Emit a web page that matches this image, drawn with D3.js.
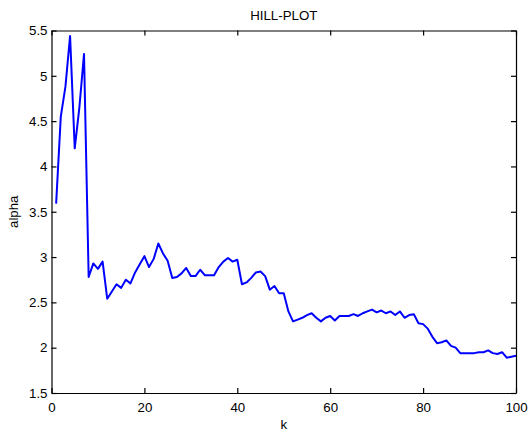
<!DOCTYPE html>
<html>
<head>
<meta charset="utf-8">
<script src="https://d3js.org/d3.v7.min.js"></script>
<style>
  body { margin: 0; background: #fff; }
  svg { display: block; background: #fff; }
  text { font-family: "Liberation Sans", Arial, Helvetica, sans-serif; font-size: 13.3px; fill: #000; }
  .axis path, .axis line { stroke: #000; stroke-width: 1.2; }
  .hill { fill: none; stroke: #0000ff; stroke-width: 2; stroke-linejoin: round; }
</style>
</head>
<body>
<svg id="canvas" width="528" height="431"></svg>
<script>
  // hill estimate of alpha for k = 1..100
  const alphaValues = [
    3.59, 4.55, 4.88, 5.44, 4.20, 4.65, 5.24, 2.78, 2.93, 2.87,
    2.95, 2.54, 2.62, 2.70, 2.66, 2.75, 2.71, 2.83, 2.92, 3.01,
    2.89, 2.98, 3.15, 3.04, 2.96, 2.77, 2.78, 2.82, 2.88, 2.79,
    2.79, 2.86, 2.80, 2.80, 2.80, 2.89, 2.95, 2.99, 2.95, 2.97,
    2.70, 2.72, 2.77, 2.83, 2.84, 2.79, 2.64, 2.68, 2.60, 2.60,
    2.40, 2.29, 2.31, 2.33, 2.36, 2.38, 2.33, 2.29, 2.33, 2.35,
    2.30, 2.35, 2.35, 2.35, 2.37, 2.35, 2.38, 2.40, 2.42, 2.39,
    2.41, 2.38, 2.40, 2.36, 2.40, 2.33, 2.36, 2.37, 2.27, 2.26,
    2.21, 2.12, 2.05, 2.06, 2.08, 2.02, 2.00, 1.94, 1.94, 1.94,
    1.94, 1.95, 1.95, 1.97, 1.94, 1.93, 1.95, 1.89, 1.90, 1.91
  ];
  const xTicks = [0, 20, 40, 60, 80, 100];
  const yTicks = [1.5, 2, 2.5, 3, 3.5, 4, 4.5, 5, 5.5];
  const titleText = "HILL-PLOT";
  const xLabelText = "k";
  const yLabelText = "alpha";

  const width = 528, height = 431;
  const margin = { left: 51.5, right: 12, top: 30.5, bottom: 38 };
  const innerW = width - margin.left - margin.right;
  const innerH = height - margin.top - margin.bottom;

  let svg = d3.select("svg");
  let g = svg.append("g").attr("transform", `translate(${margin.left},${margin.top})`);

  let x = d3.scaleLinear().domain([0, 100]).range([0, innerW]);
  let y = d3.scaleLinear().domain([1.5, 5.5]).range([innerH, 0]);

  let points = alphaValues.map((v, i) => ({ k: i + 1, v: v }));

  g.append("path")
    .datum(points)
    .attr("class", "hill")
    .attr("d", d3.line().x(d => x(d.k)).y(d => y(d.v)));

  // bottom and left axes with labels, ticks pointing inward
  g.append("g")
    .attr("class", "axis")
    .attr("transform", `translate(0,${innerH})`)
    .call(d3.axisBottom(x).tickValues(xTicks).tickSizeInner(-5).tickSizeOuter(0).tickPadding(10));

  g.append("g")
    .attr("class", "axis")
    .call(d3.axisLeft(y).tickValues(yTicks).tickFormat(d => String(d))
      .tickSizeInner(-5).tickSizeOuter(0).tickPadding(4));

  // mirrored ticks on top and right
  g.append("g")
    .attr("class", "axis")
    .call(d3.axisTop(x).tickValues(xTicks).tickSizeInner(-5).tickSizeOuter(0).tickFormat(""));
  g.append("g")
    .attr("class", "axis")
    .attr("transform", `translate(${innerW},0)`)
    .call(d3.axisRight(y).tickValues(yTicks).tickSizeInner(-5).tickSizeOuter(0).tickFormat(""));

  g.selectAll(".axis text").attr("font-size", null).attr("font-family", null);

  svg.append("text")
    .attr("x", margin.left + innerW / 2)
    .attr("y", 20)
    .attr("text-anchor", "middle")
    .text(titleText);

  svg.append("text")
    .attr("x", margin.left + innerW / 2)
    .attr("y", 429)
    .attr("text-anchor", "middle")
    .text(xLabelText);

  svg.append("text")
    .attr("transform", `translate(18,${margin.top + innerH / 2}) rotate(-90)`)
    .attr("text-anchor", "middle")
    .text(yLabelText);
</script>
</body>
</html>
